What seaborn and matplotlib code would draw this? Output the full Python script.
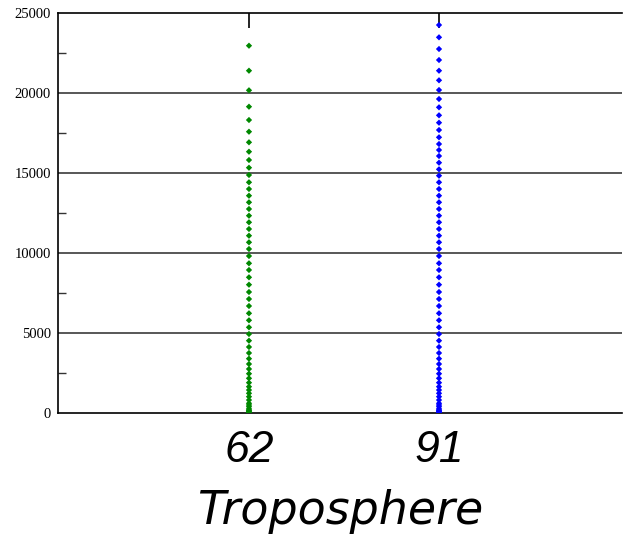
import matplotlib
matplotlib.use("Agg")
import matplotlib.pyplot as plt
from matplotlib.ticker import MultipleLocator
import seaborn as sns
import pandas as pd

# Level heights (m) shared by both vertical grids in the lower troposphere
shared_levels = [0, 40, 90, 140, 187, 260, 394, 500, 606, 812, 1019, 1231, 1437,
                 1644, 1894, 2169, 2456, 2750, 3062, 3394, 3750, 4125, 4519,
                 4937, 5356, 5794, 6231, 6687, 7125, 7562, 8019, 8481, 8938,
                 9356, 9812, 10250, 10669, 11081, 11500, 11919, 12331, 12750,
                 13169, 13581, 14000]
# Upper levels for each grid
upper_62 = [14419, 14875, 15331, 15812, 16331, 16919, 17581, 18312, 19144,
            20169, 21394, 22956]
upper_91 = [14419, 14831, 15231, 15644, 16062, 16437, 16812, 17231, 17687,
            18144, 18606, 19106, 19625, 20187, 20794, 21394, 22062, 22750,
            23481, 24250]

grids = ["62", "91"]
colors = ["#008800", "#0000ff"]
y_ticks = [0, 5000, 10000, 15000, 20000, 25000]

heights = {"62": shared_levels + upper_62, "91": shared_levels + upper_91}
df = pd.DataFrame(
    [(g, h) for g in grids for h in heights[g]], columns=["grid", "height"]
)

sns.set_style("white")
fig = plt.figure(figsize=(6.23, 5.36), dpi=100)
ax = fig.add_axes([58 / 623, 1 - 413 / 536, 564 / 623, 400 / 536])

sns.stripplot(data=df, x="grid", y="height", hue="grid", order=grids,
              palette=colors, jitter=False, marker="D", size=3.2,
              linewidth=0, legend=False, ax=ax, zorder=3)

ax.set_xlim(-1.005, 1.963)
ax.set_ylim(0, 25000)
ax.set_yticks(y_ticks)
ax.set_yticklabels([str(v) for v in y_ticks], fontfamily="Liberation Serif",
                   fontsize=10.5, color="black")
ax.yaxis.set_minor_locator(MultipleLocator(2500))
ax.grid(False)
for v in y_ticks[1:-1]:
    ax.axhline(v, color="#4a4a4a", lw=1.3, zorder=1)

ax.tick_params(axis="y", which="major", length=0, pad=5, colors="black")
ax.tick_params(axis="y", which="minor", direction="in", length=6,
               width=1, color="#333333", left=True)
ax.tick_params(axis="x", which="major", direction="in", length=11, width=1.2,
               top=True, bottom=True, pad=12, color="black")
ax.set_xticklabels(grids, fontfamily="Liberation Sans", style="italic",
                   fontsize=32, color="black")
ax.set_xlabel("Troposphere", fontfamily="DejaVu Sans", style="oblique",
              fontsize=33, labelpad=13, color="black")
ax.set_ylabel("")

for side in ["left", "top", "bottom"]:
    ax.spines[side].set_visible(True)
    ax.spines[side].set_color("black")
    ax.spines[side].set_linewidth(1.2)
ax.spines["right"].set_visible(False)

fig.savefig("out.png", dpi=100, facecolor="white")
